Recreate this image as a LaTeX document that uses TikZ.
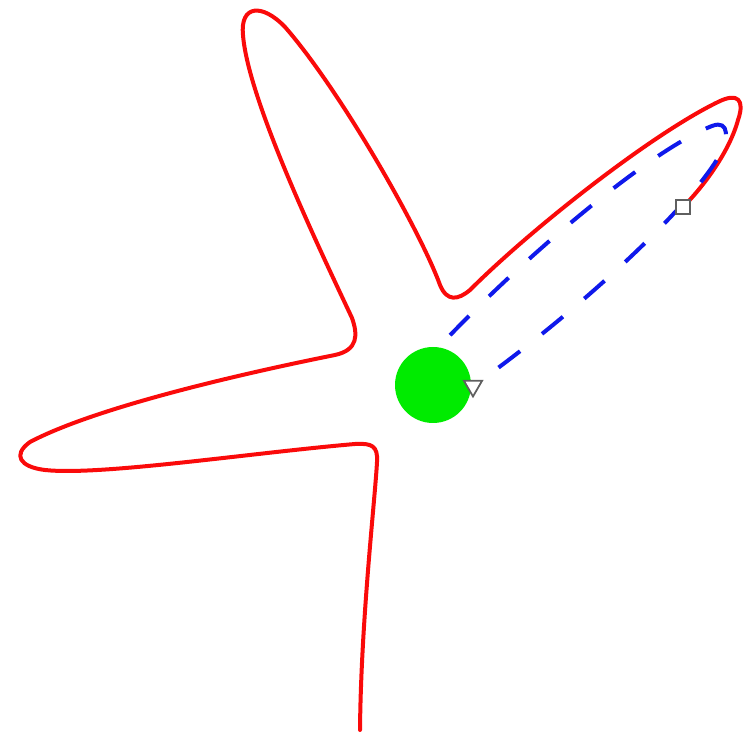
\documentclass[tikz,border=0pt]{standalone}
\usepackage{tikz}
\usetikzlibrary{shapes.geometric}
\definecolor{curvered}{RGB}{250,10,10}
\definecolor{pathblue}{RGB}{15,25,235}
\definecolor{blobgreen}{RGB}{0,235,0}
\definecolor{markgray}{RGB}{95,95,95}
\tikzset{
  outline/.style = {curvered, line width=0.8mm, line cap=round, line join=round},
  route/.style   = {pathblue, line width=0.8mm, dash pattern=on 5.4mm off 5.6mm},
  blob/.style    = {circle, fill=blobgreen, inner sep=0pt, minimum size=15.2mm},
  sqmark/.style  = {draw=markgray, fill=white, line width=0.35mm, inner sep=0pt,
                    minimum size=2.8mm},
  trimark/.style = {regular polygon, regular polygon sides=3, shape border rotate=180,
                    draw=markgray, fill=white, line width=0.35mm, inner sep=0pt,
                    minimum size=4.2mm},
}

\begin{document}
\begin{tikzpicture}[x=0.2mm,y=-0.2mm]
  \useasboundingbox (0,0) rectangle (744,736);
  \coordinate (C) at (433,385);
  \coordinate (redend) at (683,207);
  \coordinate (blueend) at (473,386);
  % the star-shaped outline, from the stem up to the open end
  \draw[outline] (360,730) .. controls (361,620) and (375,500) .. (377,462)
    .. controls (378,446) and (372,443) .. (355,444)
    .. controls (250,453) and (100,476) .. (45,470)
    .. controls (20,467) and (12,455) .. (30,442)
    .. controls (100,405) and (260,370) .. (335,355)
    .. controls (358,350) and (358,335) .. (352,318)
    .. controls (320,250) and (248,100) .. (243,35)
    .. controls (240,5) and (262,3) .. (285,27)
    .. controls (340,90) and (420,230) .. (440,285)
    .. controls (447,302) and (458,300) .. (470,290)
    .. controls (530,230) and (650,135) .. (718,102)
    .. controls (738,92) and (745,100) .. (738,120)
    .. controls (730,150) and (705,185) .. (redend);
  % dashed loop back to the blob
  \draw[route] (C) -- (438,348)
    .. controls (520,260) and (650,150) .. (712,126)
    .. controls (730,119) and (729,140) .. (718,158)
    .. controls (680,220) and (560,325) .. (blueend);
  \node[blob] (start) at (C) {};
  \node[sqmark] (stop) at (redend) {};
  \node[trimark] (tip) at (blueend) {};
\end{tikzpicture}
\end{document}
